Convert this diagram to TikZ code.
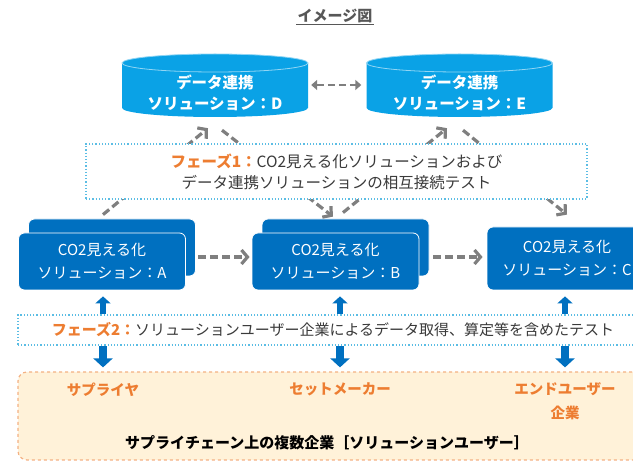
\documentclass[tikz,border=0pt]{standalone}
\usepackage{fontspec}
\setmainfont{Noto Sans CJK JP}
\usetikzlibrary{arrows.meta}

\definecolor{cylblue}{HTML}{0AA2E6}
\definecolor{boxblue}{HTML}{0070C0}
\definecolor{arrowgray}{HTML}{7F7F7F}
\definecolor{phaseline}{HTML}{5BBDE4}
\definecolor{phaseorange}{HTML}{ED7D31}
\definecolor{userfill}{HTML}{FFF2D9}
\definecolor{userline}{HTML}{F4B183}
\definecolor{darktext}{HTML}{3A3A3A}

\tikzset{
  cylrim/.style={draw=white!55!cylblue, line width=0.8pt},
  cylbody/.style={minimum width=186pt, minimum height=63pt, inner sep=0pt},
  cyltext/.style={text=white, align=center, font=\bfseries\fontsize{15.5}{21}\selectfont},
  solbox/.style={draw=white, line width=0.8pt, fill=boxblue, rounded corners=6pt,
    minimum width=167pt, minimum height=57pt, text=white, align=center,
    font=\fontsize{15}{23}\selectfont},
  phasebox/.style={draw=phaseline, dotted, line width=1.2pt, fill=white,
    text=darktext, align=center, font=\fontsize{15.5}{21}\selectfont},
  userbox/.style={draw=userline, dashed, line width=1.2pt, fill=userfill, rounded corners=9pt},
  userlabel/.style={text=phaseorange, align=center, font=\bfseries\fontsize{14.5}{24}\selectfont},
  flow/.style={draw=arrowgray, line width=3.2pt, dash pattern=on 8pt off 4pt,
    -{Straight Barb[length=6pt,width=14pt]}},
  linkflow/.style={draw=arrowgray, line width=2.8pt, dash pattern=on 7pt off 4pt,
    {Triangle[length=6pt,width=10pt]}-{Triangle[length=6pt,width=10pt]}},
  upflow/.style={draw=boxblue, line width=6pt, -{Triangle[length=7pt,width=15pt]}},
  downflow/.style={draw=boxblue, line width=7.5pt, -{Triangle[length=9pt,width=19pt]}},
}

\begin{document}
\begin{tikzpicture}[x=1pt,y=1pt]
  \useasboundingbox (0,0) rectangle (633,461);
  \clip (0,0) rectangle (633,461);

  % Title
  \node[text=darktext!85, font=\bfseries\fontsize{15}{18}\selectfont, inner sep=1pt] (title) at (335,445) {イメージ図};
  \draw[darktext!85, line width=0.8pt] (title.south west) -- (title.south east);

  % Data linkage cylinders
  \foreach \cx/\nm in {215/D,459.5/E}
  {
    \fill[cylblue] (\cx-93,398) -- (\cx-93,353)
      arc[start angle=180, end angle=360, x radius=93, y radius=9]
      -- (\cx+93,398)
      arc[start angle=0, end angle=180, x radius=93, y radius=9] -- cycle;
    \draw[cylrim] (\cx,398) ellipse [x radius=93, y radius=9];
    \node[cylbody] (\nm) at (\cx,375.5) {};
    \node[cyltext] (\nm text) at (\cx,368.5) {データ連携\\ソリューション：\nm};
  }
  \draw[linkflow, shorten <=3pt, shorten >=5pt] ([yshift=0.5pt]D.east) -- ([yshift=0.5pt]E.west);

  % CO2 solutions
  \node[solbox] (Aback) at (112,213.5) {};
  \node[solbox] (A) at (102,199.5) {CO2見える化\\ソリューション：A};
  \node[solbox] (Bback) at (345.5,213.5) {};
  \node[solbox] (B) at (335.5,199.5) {CO2見える化\\ソリューション：B};
  \node[solbox, minimum width=160pt, minimum height=63pt] (C) at (567,202.5) {CO2見える化\\ソリューション：C};

  \draw[flow, shorten <=2.5pt, shorten >=2pt] ([yshift=-9.5pt]Aback.east) -- ([yshift=4.5pt]B.west);
  \draw[flow, shorten <=4pt, shorten >=4pt] ([yshift=-9.5pt]Bback.east) -- ([yshift=1.5pt]C.west);

  % Phase 1 links
  \draw[flow] ([xshift=-9pt,yshift=4pt]Aback.north) -- ([xshift=-7pt,yshift=-11pt]D.south);
  \draw[flow] ([xshift=7pt,yshift=-13pt]D.south) -- ([xshift=-12.5pt,yshift=2pt]Bback.north);
  \draw[flow] ([xshift=-2.5pt,yshift=6pt]Bback.north) -- ([xshift=-12.5pt,yshift=-11pt]E.south);
  \draw[flow] ([xshift=3.5pt,yshift=-13pt]E.south) -- ([yshift=12pt]C.north);

  \node[phasebox, minimum width=501pt, minimum height=55pt] (ph1) at (336.5,289.5)
    {\textcolor{phaseorange}{\bfseries フェーズ1：}CO2見える化ソリューションおよび\\データ連携ソリューションの相互接続テスト};

  % Solution users
  \node[userbox, minimum width=635pt, minimum height=88pt] (users) at (335.5,45) {};
  \node[userlabel, anchor=north] (sup) at (103,82) {サプライヤ};
  \node[userlabel, anchor=north] (setm) at (340,82) {セットメーカー};
  \node[userlabel, anchor=north] (endu) at (565,82) {エンドユーザー\\企業};
  \node[text=black, font=\bfseries\fontsize{15}{18}\selectfont] (chain) at (327,18)
    {サプライチェーン上の複数企業［ソリューションユーザー］};

  % Phase 2
  \node[phasebox, minimum width=630pt, minimum height=30pt, font=\fontsize{15}{18}\selectfont] (ph2) at (333,131)
    {\textcolor{phaseorange}{\bfseries フェーズ2：}ソリューションユーザー企業によるデータ取得、算定等を含めたテスト};

  \foreach \u/\s in {sup/A,setm/B,endu/C}
  {
    \draw[upflow, shorten <=0.6pt, shorten >=6pt] (ph2.north -| \u) -- (\s.south -| \u);
    \draw[downflow, shorten <=0.6pt, shorten >=4pt] (ph2.south -| \u) -- (users.north -| \u);
  }
\end{tikzpicture}
\end{document}
